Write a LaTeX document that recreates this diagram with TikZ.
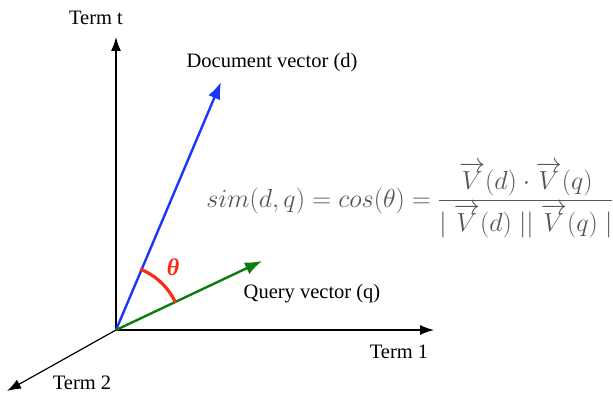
\documentclass[tikz,border=0pt]{standalone}
\usepackage{amsmath,amssymb}
\usepackage{fontspec}
\setmainfont{Liberation Serif}
\usetikzlibrary{arrows.meta,positioning}
\definecolor{docblue}{RGB}{25,55,250}
\definecolor{qgreen}{RGB}{10,125,15}
\definecolor{angred}{RGB}{250,45,20}
\definecolor{formgray}{RGB}{85,85,85}

\begin{document}
\begin{tikzpicture}[x=1pt,y=1pt,every node/.style={font=\fontsize{20.5}{24}\selectfont},>={Latex[length=14pt,width=10pt]},
  axis/.style={->,line width=1.2pt,black},
  vec/.style={line width=2.4pt,-{Latex[length=17pt,width=13pt]}}]
\useasboundingbox (0,0) rectangle (613,394);
\coordinate (o) at (116,64);
\coordinate (tt) at (116,357);
\coordinate (t1) at (434,64);
\coordinate (t2) at (7,3);
\coordinate (dv) at (221,312);
\coordinate (qv) at (262,133);
% axes
\draw[axis] (o) -- (tt);
\draw[axis] (o) -- (t1);
\draw[axis] (o) -- (t2);
\node (ltt) at (96,376) {Term t};
\node (lt1) at (399,42) {Term 1};
\node (lt2) at (82,11) {Term 2};
% vectors
\draw[vec,docblue] (o) -- (dv);
\draw[vec,qgreen] (o) -- (qv);
\node (ldv) at (272,331) {Document vector (d)};
\node (lqv) at (312,100) {Query vector (q)};
% angle
\draw[angred,line width=3.2pt] (o) ++(68.4:65.5) arc[start angle=68.4,end angle=24.8,radius=65.5];
\node[text=angred,font=\fontsize{24}{26}\selectfont\bfseries\itshape] (th) at (173,127) {θ};
% similarity
\node[text=formgray,font=\fontsize{24.88}{30}\selectfont,scale=1.05,transform shape] (sim) at (410,194)
 {$sim(d,q)=cos(\theta)=\dfrac{\overrightarrow{V}(d)\cdot\overrightarrow{V}(q)}{\mid\overrightarrow{V}(d)\mid\mid\overrightarrow{V}(q)\mid}$};
\end{tikzpicture}
\end{document}
